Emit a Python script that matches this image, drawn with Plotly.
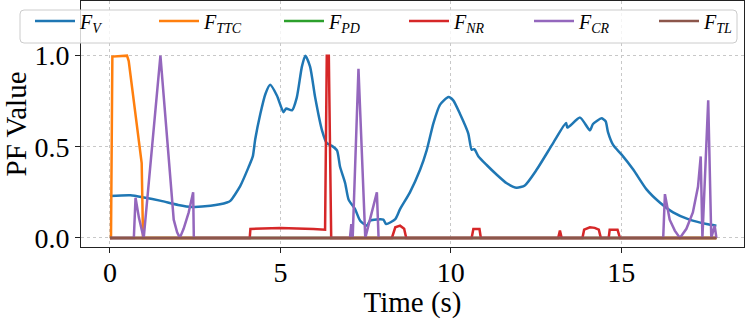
import plotly.graph_objects as go

# ---- data ----
t_v = [0.0, 0.6, 1.0, 1.5, 2.0, 2.4, 2.95, 3.43, 3.53, 3.82, 4.07, 4.19, 4.26, 4.41, 4.56, 4.7,
       4.9, 5.09, 5.17, 5.34, 5.48, 5.63, 5.73, 5.87, 6.02, 6.22, 6.36, 6.51, 6.66, 6.75, 6.9,
       7.0, 7.19, 7.34, 7.54, 7.63, 8.02, 8.1, 8.37, 8.51, 8.8, 9.1, 9.29, 9.49, 9.68, 9.93,
       10.07, 10.27, 10.51, 10.61, 10.69, 10.81, 11.05, 11.34, 11.64, 11.93, 12.17, 12.52,
       13.0, 13.38, 13.42, 13.79, 14.08, 14.17, 14.42, 14.54, 14.61, 14.76, 15.01, 15.35,
       15.74, 16.13, 16.52, 17.0, 17.5, 17.79]
f_v = [0.23, 0.234, 0.222, 0.203, 0.181, 0.17, 0.176, 0.194, 0.203, 0.284, 0.39, 0.447, 0.54,
       0.68, 0.79, 0.84, 0.78, 0.69, 0.71, 0.70, 0.77, 0.94, 1.0, 0.94, 0.77, 0.59, 0.52, 0.505,
       0.48, 0.39, 0.30, 0.21, 0.158, 0.094, 0.067, 0.094, 0.10, 0.076, 0.103, 0.158, 0.25,
       0.375, 0.48, 0.63, 0.73, 0.773, 0.755, 0.68, 0.574, 0.484, 0.487, 0.447, 0.40, 0.348,
       0.30, 0.275, 0.288, 0.375, 0.52, 0.63, 0.605, 0.66, 0.59, 0.625, 0.656, 0.64, 0.58,
       0.51, 0.457, 0.375, 0.266, 0.194, 0.14, 0.10, 0.076, 0.067]

t_ttc = [0.0, 0.03, 0.07, 0.5, 0.55, 0.93, 0.97, 17.79]
f_ttc = [0.0, 0.0, 0.995, 1.0, 0.97, 0.41, 0.0, 0.0]

t_pd = [0.0, 17.79]
f_pd = [0.0, 0.0]

t_nr = [0.0, 4.1, 4.12, 5.0, 5.97, 6.31, 6.36, 6.42, 6.49, 8.27, 8.37, 8.51, 8.63, 8.69,
        10.61, 10.66, 10.84, 10.88, 13.15, 13.2, 13.25, 13.86, 13.91, 14.08, 14.22, 14.34,
        14.4, 14.63, 14.66, 14.89, 14.96, 17.79]
f_nr = [0.0, 0.0, 0.049, 0.054, 0.049, 0.045, 1.0, 1.0, 0.0, 0.0, 0.058, 0.067, 0.05, 0.0,
        0.0, 0.049, 0.049, 0.0, 0.0, 0.04, 0.0, 0.0, 0.045, 0.058, 0.055, 0.045, 0.0, 0.0,
        0.045, 0.045, 0.0, 0.0]

t_cr = [0.0, 0.7, 0.75, 0.85, 0.95, 0.99, 1.48, 1.87, 1.97, 2.05, 2.16, 2.31, 2.44, 2.46,
        7.04, 7.08, 7.12, 7.29, 7.49, 7.83, 7.88, 16.23, 16.28, 16.42, 16.57, 16.72, 16.91,
        17.1, 17.25, 17.33, 17.38, 17.55, 17.64, 17.74, 17.79]
f_cr = [0.0, 0.0, 0.22, 0.11, 0.03, 0.0, 1.0, 0.10, 0.03, 0.0, 0.05, 0.14, 0.25, 0.0,
        0.0, 0.076, 0.0, 0.928, 0.0, 0.25, 0.0, 0.0, 0.24, 0.10, 0.04, 0.0, 0.05,
        0.14, 0.28, 0.447, 0.0, 0.755, 0.0, 0.067, 0.0]

t_tl = [0.0, 17.79]
f_tl = [0.0, 0.0]

names = ["<i>F</i><sub><i>V</i></sub>", "<i>F</i><sub><i>TTC</i></sub>",
         "<i>F</i><sub><i>PD</i></sub>", "<i>F</i><sub><i>NR</i></sub>",
         "<i>F</i><sub><i>CR</i></sub>", "<i>F</i><sub><i>TL</i></sub>"]
colors = ["#1f77b4", "#ff7f0e", "#2ca02c", "#d62728", "#9467bd", "#8c564b"]
xticks = [0, 5, 10, 15]
yticks = [0.0, 0.5, 1.0]

series = [(t_v, f_v), (t_ttc, f_ttc), (t_pd, f_pd), (t_nr, f_nr), (t_cr, f_cr), (t_tl, f_tl)]

W, H = 747, 319
ML, MR, MT, MB = 81, 3, 1, 72
PW, PH = W - ML - MR, H - MT - MB

fig = go.Figure()
for i, (tt, ff) in enumerate(series):
    fig.add_trace(go.Scatter(
        x=tt, y=ff, mode="lines", name=names[i],
        legend="legend" if i == 0 else "legend2",
        line=dict(color=colors[i], width=2.5,
                  shape="spline" if i == 0 else "linear", smoothing=0.6 if i == 0 else None),
    ))

FF = "Liberation Serif, serif"
axis_common = dict(
    showline=True, linecolor="#222222", linewidth=1, mirror=True,
    ticks="outside", ticklen=5, tickwidth=1, tickcolor="#222222",
    showgrid=True, gridcolor="#c8c8c8", griddash="dot", gridwidth=1,
    zeroline=False, tickfont=dict(family=FF, size=28, color="black"),
)

# legend frame (px -> paper)
def px_x(p):
    return (p - ML) / PW

def px_y(p):
    return (H - MB - p) / PH

bx0, bx1, by0, by1, r = 20, 737, 10, 43, 4
path = (f"M {px_x(bx0 + r)},{px_y(by0)} L {px_x(bx1 - r)},{px_y(by0)} "
        f"Q {px_x(bx1)},{px_y(by0)} {px_x(bx1)},{px_y(by0 + r)} "
        f"L {px_x(bx1)},{px_y(by1 - r)} Q {px_x(bx1)},{px_y(by1)} {px_x(bx1 - r)},{px_y(by1)} "
        f"L {px_x(bx0 + r)},{px_y(by1)} Q {px_x(bx0)},{px_y(by1)} {px_x(bx0)},{px_y(by1 - r)} "
        f"L {px_x(bx0)},{px_y(by0 + r)} Q {px_x(bx0)},{px_y(by0)} {px_x(bx0 + r)},{px_y(by0)} Z")

leg_common = dict(
    orientation="h", xanchor="left", yanchor="middle", xref="paper", yref="paper",
    y=px_y(21), bgcolor="rgba(0,0,0,0)", borderwidth=0,
    font=dict(family=FF, size=20, color="black"),
    itemwidth=40, entrywidth=70, entrywidthmode="pixels",
)
LX = 30

fig.update_layout(
    width=W, height=H,
    margin=dict(l=ML, r=MR, t=MT, b=MB, autoexpand=False),
    plot_bgcolor="white", paper_bgcolor="white",
    font=dict(family=FF, color="black"),
    showlegend=True,
    legend=dict(x=px_x(LX), **leg_common),
    legend2=dict(x=px_x(LX + 124), **leg_common),
    shapes=[dict(type="path", path=path, xref="paper", yref="paper",
                 line=dict(color="#cccccc", width=1), fillcolor="rgba(255,255,255,0.8)",
                 layer="above")],
    xaxis=dict(range=[-0.85, 18.6], tickvals=xticks, ticktext=[str(v) for v in xticks],
               ticklabelstandoff=-5,
               title=dict(text="Time (s)", font=dict(family=FF, size=29), standoff=6),
               automargin=False, **axis_common),
    yaxis=dict(range=[-0.05, 1.3], tickvals=yticks, ticktext=[f"{v:.1f}" for v in yticks],
               title=dict(text="PF Value", font=dict(family=FF, size=29), standoff=10),
               automargin=False, **axis_common),
)

fig.write_html("out.html", config={"displayModeBar": False},
               post_script="document.body.style.margin='0px';document.body.style.overflow='hidden';")
